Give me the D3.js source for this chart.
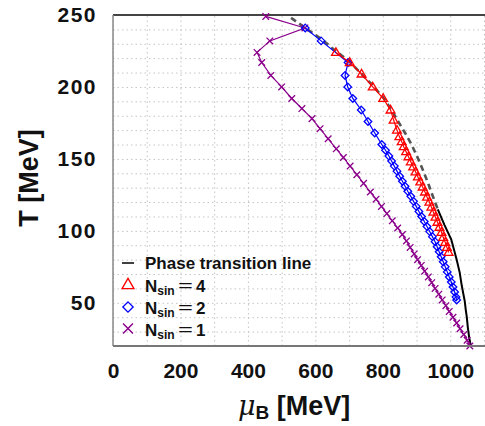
<!DOCTYPE html>
<html><head><meta charset="utf-8">
<script src="https://cdn.jsdelivr.net/npm/d3@7"></script>
<style>
html,body{margin:0;padding:0;background:#fff;}
svg{display:block;}
text{font-family:"Liberation Sans",Arial,sans-serif;font-weight:bold;fill:#111;}
</style></head>
<body>
<svg id="chart" width="485" height="426"></svg>
<script>
// ---- data ----
const xTicks = [0, 200, 400, 600, 800, 1000];
const yTicks = [50, 100, 150, 200, 250];

const crossoverMu = [528, 570, 620, 660, 700, 737, 770, 800, 823, 843, 866, 885, 905, 921, 936, 950, 963];
const crossoverT  = [248, 241, 233, 225, 218, 209, 201, 193, 185, 177, 168, 160, 150, 141, 132, 123, 115];

const firstOrderMu = [963, 983, 1003, 1019, 1028, 1034, 1043, 1046, 1049, 1052, 1056, 1061];
const firstOrderT  = [115, 104, 94, 80, 71, 62, 51, 45, 40, 33, 26, 20];

const nsin4Mu = [661, 702, 737, 770, 801, 823, 832, 842, 849, 856, 862, 869, 876, 883, 890, 897, 904, 911, 918, 925, 931, 938, 944, 950, 956, 962, 968, 974, 979, 985, 990, 995];
const nsin4T  = [224, 217, 209, 200, 192, 184, 177, 170, 165.5, 162, 158.5, 155, 151.5, 148, 144.5, 141, 137.5, 134, 130.5, 127, 123.5, 120, 116.5, 113, 109.5, 106, 102.5, 99, 95.5, 92, 88.5, 85];

const nsin2Mu = [570, 617, 697, 688, 696, 711, 736, 756, 776, 797, 808, 818, 826, 834, 842, 850, 858, 866, 874, 883, 891, 899, 907, 915, 923, 931, 939, 947, 955, 961, 967, 973, 979, 985, 991, 997, 1003, 1008, 1013, 1017, 1019];
const nsin2T  = [241, 232, 217, 208, 200, 192, 184, 176, 168, 160, 156, 152, 148.5, 145, 141.5, 138, 134.5, 131, 127.5, 124, 120.5, 117, 113.5, 110, 106.5, 103, 99.5, 96, 92.5, 89, 85.5, 82, 78.5, 75, 71.5, 68, 64.5, 61, 57.5, 54, 52];

const nsin1Mu = [453, 569, 465, 427, 441, 468, 500, 530, 560, 590, 614, 638, 662, 683, 703, 723, 743, 763, 780, 796, 812, 828, 844, 858, 870, 881, 893, 903, 914, 924, 935, 945, 955, 966, 976, 987, 997, 1008, 1019, 1029, 1040, 1050, 1058];
const nsin1T  = [249, 241, 232, 224, 217, 208, 200, 192, 185, 178, 171, 164, 157, 151, 145, 139, 133, 127, 122, 117, 112, 107, 102, 97.5, 93, 88.5, 84, 80, 76, 72, 68, 64, 60, 56, 52, 48, 44, 40, 36, 32, 28, 24, 20];

const legendLabels = ["Phase transition line", "4", "2", "1"];

// ---- chart ----
const svg = d3.select("#chart");
const x = d3.scaleLinear().domain([0, 1100]).range([113, 484]);
const y = d3.scaleLinear().domain([20, 250]).range([346, 15]);

const pts = (mu, t) => d3.zip(mu, t).map(([m, tt]) => ({m, t: tt}));
const line = d3.line().x(d => x(d.m)).y(d => y(d.t));

// grid
const gx = svg.append("g").attr("transform", `translate(0,${y(20)})`)
  .call(d3.axisBottom(x).tickValues(d3.range(0, 1101, 100)).tickSize(-(y(20) - y(250))).tickFormat(""));
const gy = svg.append("g").attr("transform", `translate(${x(0)},0)`)
  .call(d3.axisLeft(y).tickValues(d3.range(20, 251, 10)).tickSize(-(x(1100) - x(0))).tickFormat(""));
[gx, gy].forEach(g => {
  g.select(".domain").remove();
  g.selectAll(".tick line").attr("stroke", "#c4c4c4").attr("stroke-width", 1).attr("stroke-dasharray", "1.5,3");
});

// frame
svg.append("line").attr("x1", x(0)).attr("x2", 485).attr("y1", y(250)).attr("y2", y(250)).attr("stroke", "#444").attr("stroke-width", 2);
svg.append("line").attr("x1", x(0)).attr("x2", x(0)).attr("y1", y(250)).attr("y2", y(20)).attr("stroke", "#888").attr("stroke-width", 1.5);

// phase transition line
svg.append("path").datum(pts(crossoverMu, crossoverT)).attr("d", line)
  .attr("fill", "none").attr("stroke", "#555").attr("stroke-width", 2.6).attr("stroke-dasharray", "6,4");
svg.append("path").datum(pts(firstOrderMu, firstOrderT)).attr("d", line)
  .attr("fill", "none").attr("stroke", "#000").attr("stroke-width", 2);

const triPath = "M0,-4.6L4.4,3L-4.4,3Z";
const diaPath = "M0,-3.8L3.8,0L0,3.8L-3.8,0Z";
const xPath = "M-3.3,-3.3L3.3,3.3M-3.3,3.3L3.3,-3.3";

function series(mu, t, color, shape) {
  const d = pts(mu, t);
  const g = svg.append("g");
  g.append("path").datum(d).attr("d", line).attr("fill", "none").attr("stroke", color).attr("stroke-width", 1.2);
  g.selectAll("path.m").data(d).join("path").attr("class", "m")
    .attr("transform", p => `translate(${x(p.m)},${y(p.t)})`)
    .attr("d", shape).attr("fill", "none").attr("stroke", color).attr("stroke-width", 1.3);
}
series(nsin1Mu, nsin1T, "#8b008b", xPath);
series(nsin2Mu, nsin2T, "#0000ff", diaPath);
series(nsin4Mu, nsin4T, "#ff0000", triPath);

// bottom axis line
svg.append("line").attr("x1", x(0)).attr("x2", 485).attr("y1", y(20)).attr("y2", y(20)).attr("stroke", "#777").attr("stroke-width", 2.2);

// tick labels
const ax = svg.append("g").attr("transform", `translate(0,${y(20)})`)
  .call(d3.axisBottom(x).tickValues(xTicks).tickSize(0).tickPadding(17).tickFormat(d3.format("d")));
ax.select(".domain").remove();
ax.selectAll("text").style("font-family", "Liberation Sans, Arial, sans-serif").style("font-weight", "bold")
  .style("font-size", "21px").attr("fill", "#111");
const ay = svg.append("g").attr("transform", `translate(${x(0)},0)`)
  .call(d3.axisLeft(y).tickValues(yTicks).tickSize(0).tickPadding(16).tickFormat(d3.format("d")));
ay.select(".domain").remove();
ay.selectAll("text").style("font-family", "Liberation Sans, Arial, sans-serif").style("font-weight", "bold")
  .style("font-size", "21px").style("letter-spacing", "1.5px").attr("fill", "#111");

// axis titles
svg.append("text").attr("transform", "translate(38,178) rotate(-90)").attr("text-anchor", "middle")
  .style("font-size", "27px").text("T [MeV]");
const xt = svg.append("text").attr("x", 238).attr("y", 415).style("font-size", "27px");
xt.append("tspan").style("font-family", "DejaVu Serif, serif").style("font-style", "italic").style("font-weight", "normal").text("μ");
xt.append("tspan").attr("dy", 4).style("font-size", "19px").text("B");
xt.append("tspan").attr("dy", -4).text(" [MeV]");

// legend
const lg = svg.append("g");
const rows = [263, 284.5, 307, 328.5];
lg.append("line").attr("x1", 122).attr("x2", 134).attr("y1", rows[0]).attr("y2", rows[0]).attr("stroke", "#000").attr("stroke-width", 1.5);
lg.append("path").attr("d", triPath).attr("transform", `translate(128,${rows[1]}) scale(1.35)`).attr("fill", "none").attr("stroke", "#ff0000").attr("stroke-width", 1);
lg.append("path").attr("d", diaPath).attr("transform", `translate(128,${rows[2]}) scale(1.35)`).attr("fill", "none").attr("stroke", "#0000ff").attr("stroke-width", 1);
lg.append("path").attr("d", xPath).attr("transform", `translate(128,${rows[3]}) scale(1.5)`).attr("fill", "none").attr("stroke", "#8b008b").attr("stroke-width", 1);

lg.append("text").attr("x", 145).attr("y", rows[0] + 6).style("font-size", "17px").text(legendLabels[0]);
legendLabels.slice(1).forEach((lab, i) => {
  const base = rows[i + 1] + 7;
  const t = lg.append("text").attr("x", 145).attr("y", base).style("font-size", "17px");
  t.append("tspan").text("N");
  t.append("tspan").attr("dy", 3).style("font-size", "12px").text("sin");
  lg.append("text").attr("transform", `translate(178,${base - 1}) scale(1.5,1)`)
    .style("font-size", "17px").style("font-weight", "normal").text("=");
  lg.append("text").attr("x", 196).attr("y", base).style("font-size", "17px").text(lab);
});
</script>
</body></html>
